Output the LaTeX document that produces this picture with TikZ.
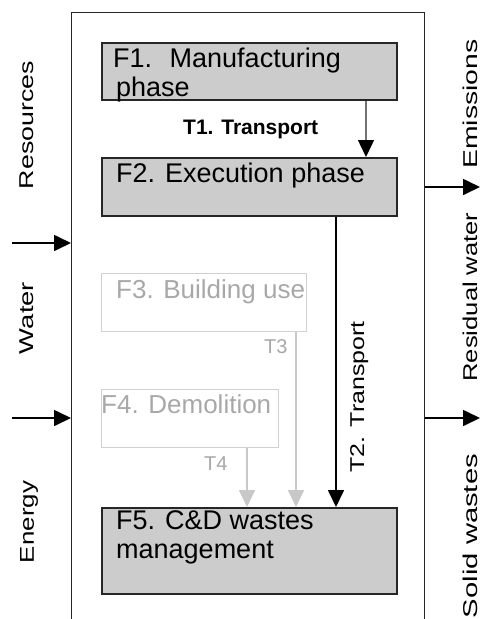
\documentclass[tikz,border=0pt]{standalone}
\usepackage{fontspec}
\setmainfont{Liberation Sans}
\usepackage{graphicx}
\usetikzlibrary{arrows.meta}

\definecolor{boxfill}{HTML}{CCCCCC}
\definecolor{faintline}{HTML}{D0D0D0}
\definecolor{fainttext}{HTML}{A8A8A8}
\definecolor{faintarrow}{HTML}{C8C8C8}

% stretched side label: natural height, given length
\newcommand\sidelabel[2]{\resizebox{#1pt}{\height}{#2}}

\tikzset{
  phasebox/.style={draw=black!85, line width=1.9pt, fill=boxfill, anchor=north west, inner sep=0pt},
  faintbox/.style={draw=faintline, line width=1.3pt, anchor=north west, inner sep=0pt},
  boxtext/.style={anchor=base west, inner sep=0pt, font=\fontsize{27}{30}\selectfont},
  fainttxt/.style={anchor=base west, inner sep=0pt, text=fainttext, font=\fontsize{26}{30}\selectfont},
  tlabel/.style={anchor=base west, inner sep=0pt, text=fainttext, font=\fontsize{20}{24}\selectfont},
  sidetext/.style={rotate=90, anchor=base, inner sep=0pt, font=\fontsize{20}{24}\selectfont},
  tip/.style={-{Triangle[length=17pt,width=16pt,#1]}},
  flow/.style={line width=1.7pt, tip=black},
  faintflow/.style={line width=1.7pt, draw=faintarrow, tip=faintarrow},
}

\begin{document}
\begin{tikzpicture}[x=1pt,y=-1pt]
\useasboundingbox (0,0) rectangle (480,619);

% system boundary (open at the bottom edge)
\node[draw=black!85, line width=1.4pt, anchor=north west, minimum width=353pt, minimum height=640pt, inner sep=0pt] (sys) at (71,12) {};

% phase boxes
\node[phasebox, minimum width=295pt, minimum height=57pt] (f1) at (101,42) {};
\node[phasebox, minimum width=295pt, minimum height=58pt] (f2) at (101,157) {};
\node[faintbox, minimum width=205pt, minimum height=58pt] (f3) at (101,273) {};
\node[faintbox, minimum width=177pt, minimum height=58pt] (f4) at (101,389) {};
\node[phasebox, minimum width=295pt, minimum height=86pt] (f5) at (101,507) {};

% box texts
\node[boxtext] (f1a) at (113,67) {F1.~ Manufacturing};
\node[boxtext] (f1b) at (116,96) {phase};
\node[boxtext] (f2a) at (116,182) {F2. Execution phase};
\node[fainttxt] (f3a) at (116,298) {F3. Building use};
\node[fainttxt] (f4a) at (101,413) {F4. Demolition};
\node[boxtext] (f5a) at (116,529) {F5. C\&D wastes};
\node[boxtext] (f5b) at (116,558) {management};

% transport flows
\coordinate (xt1) at (366,0);
\coordinate (xt2) at (336,0);
\coordinate (xt3) at (296,0);
\coordinate (xt4) at (247,0);
\draw[line width=1.4pt, draw=black!55, tip=black] (f1.south -| xt1) -- (f2.north -| xt1);
\draw[flow] (f2.south -| xt2) -- (f5.north -| xt2);
\draw[faintflow] (f3.south -| xt3) -- (f5.north -| xt3);
\draw[faintflow] (f4.south -| xt4) -- (f5.north -| xt4);

\node[anchor=base west, inner sep=0pt, font=\bfseries\fontsize{21}{24}\selectfont] (t1) at (183,134) {T1. Transport};
\node[sidetext] (t2) at (364,397) {\sidelabel{151}{T2. Transport}};
\node[tlabel] (t3) at (264,353) {T3};
\node[tlabel] (t4) at (204,470) {T4};

% inputs
\coordinate (win) at (12,243);
\coordinate (ein) at (12,418);
\draw[flow] (win) -- (win -| sys.west);
\draw[flow] (ein) -- (ein -| sys.west);

% outputs
\coordinate (emout) at (480,187);
\coordinate (swout) at (480,418);
\draw[flow] (emout -| sys.east) -- (emout);
\draw[flow] (swout -| sys.east) -- (swout);

% side labels
\node[sidetext] (res) at (34,125) {\sidelabel{128}{Resources}};
\node[sidetext] (wat) at (34,318) {\sidelabel{72}{Water}};
\node[sidetext] (ene) at (34,522) {\sidelabel{82}{Energy}};
\node[sidetext] (emi) at (477,104) {\sidelabel{129}{Emissions}};
\node[sidetext] (rwa) at (477,297) {\sidelabel{169}{Residual water}};
\node[sidetext] (sol) at (477,536) {\sidelabel{164}{Solid wastes}};
\end{tikzpicture}
\end{document}
